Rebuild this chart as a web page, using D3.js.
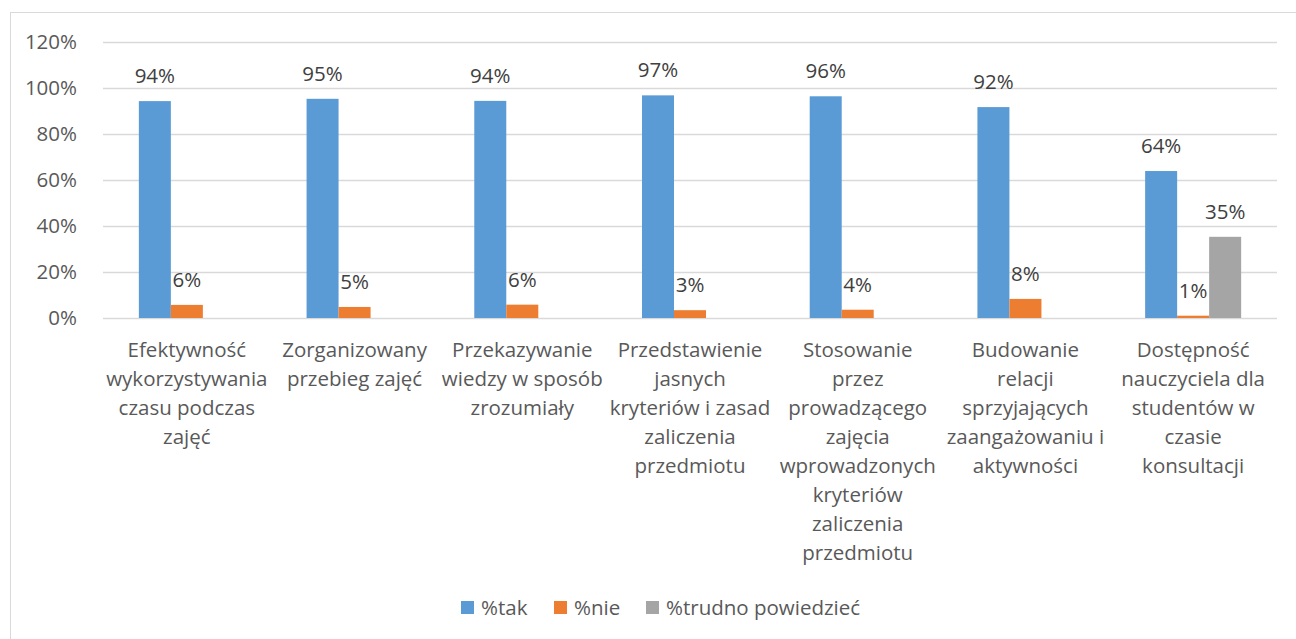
<!DOCTYPE html>
<html>
<head>
<meta charset="utf-8">
<script src="https://cdn.jsdelivr.net/npm/d3@7"></script>
<style>
  body { margin: 0; background: #fff; }
  text { font-family: "Open Sans", Lato, sans-serif; }
</style>
</head>
<body>
<svg width="1296" height="639"></svg>
<script>
// categories (line breaks as in the original wrapped labels)
var categories = [
  "Efektywność\nwykorzystywania\nczasu podczas\nzajęć",
  "Zorganizowany\nprzebieg zajęć",
  "Przekazywanie\nwiedzy w sposób\nzrozumiały",
  "Przedstawienie\njasnych\nkryteriów i zasad\nzaliczenia\nprzedmiotu",
  "Stosowanie\nprzez\nprowadzącego\nzajęcia\nwprowadzonych\nkryteriów\nzaliczenia\nprzedmiotu",
  "Budowanie\nrelacji\nsprzyjających\nzaangażowaniu i\naktywności",
  "Dostępność\nnauczyciela dla\nstudentów w\nczasie\nkonsultacji"
];

var keys = ["%tak", "%nie", "%trudno powiedzieć"];

// values in percent
var tak = [94.3, 95.3, 94.4, 96.8, 96.4, 91.7, 63.9];
var nie = [5.7, 4.8, 5.8, 3.4, 3.6, 8.3, 1.0];
var trudno = [null, null, null, null, null, null, 35.3];

var yTicks = [0, 20, 40, 60, 80, 100, 120];

var fontSize = 20.5;

var svg = d3.select("svg"),
    margin = {top: 42, right: 19, bottom: 321, left: 103},
    width = +svg.attr("width") - margin.left - margin.right,
    height = +svg.attr("height") - margin.top - margin.bottom;

// chart frame
svg.append("rect")
    .attr("x", 10.5).attr("y", 12.5)
    .attr("width", 1300).attr("height", 700)
    .attr("fill", "none")
    .attr("stroke", "#d9d9d9");

var g = svg.append("g").attr("transform", "translate(" + margin.left + "," + margin.top + ")");

var x0 = d3.scaleBand()
    .domain(d3.range(categories.length))
    .range([0, width]);

var x1 = d3.scaleBand()
    .domain(keys)
    .range([0, x0.bandwidth()])
    .paddingOuter(1.12);

var y = d3.scaleLinear()
    .domain([0, 120])
    .range([height, 0]);

var z = d3.scaleOrdinal()
    .domain(keys)
    .range(["#5b9bd5", "#ed7d31", "#a5a5a5"]);

// gridlines
g.append("g")
  .selectAll("line")
  .data(yTicks)
  .enter().append("line")
    .attr("x1", 0)
    .attr("x2", width)
    .attr("y1", function(d) { return Math.round(y(d)) + 0.5; })
    .attr("y2", function(d) { return Math.round(y(d)) + 0.5; })
    .attr("stroke", "#d9d9d9")
    .attr("stroke-width", 1.3);

// y axis labels
var yAxis = g.append("g")
    .attr("transform", "translate(-23,0)")
    .call(d3.axisLeft(y).tickValues(yTicks).tickSize(0).tickFormat(function(d) { return d + "%"; }));
yAxis.select(".domain").remove();
yAxis.selectAll("text")
    .attr("fill", "#595959")
    .attr("font-size", fontSize)
    .attr("font-family", "'Open Sans', sans-serif");

var rows = categories.map(function(c, i) {
  return [
    {key: keys[0], value: tak[i]},
    {key: keys[1], value: nie[i]},
    {key: keys[2], value: trudno[i]}
  ].filter(function(d) { return d.value != null; });
});

var groups = g.append("g")
  .selectAll("g")
  .data(rows)
  .enter().append("g")
    .attr("transform", function(d, i) { return "translate(" + x0(i) + ",0)"; });

groups.selectAll("rect")
  .data(function(d) { return d; })
  .enter().append("rect")
    .attr("x", function(d) { return x1(d.key); })
    .attr("y", function(d) { return y(d.value); })
    .attr("width", x1.bandwidth())
    .attr("height", function(d) { return height - y(d.value); })
    .attr("fill", function(d) { return z(d.key); });

// data labels
groups.selectAll("text")
  .data(function(d) { return d; })
  .enter().append("text")
    .attr("x", function(d) { return x1(d.key) + x1.bandwidth() / 2; })
    .attr("y", function(d) { return y(d.value) - 18; })
    .attr("text-anchor", "middle")
    .attr("fill", "#404040")
    .attr("font-size", fontSize)
    .text(function(d) { return Math.round(d.value) + "%"; });

// x axis labels
var xl = g.append("g")
  .selectAll("text")
  .data(categories)
  .enter().append("text")
    .attr("x", function(d, i) { return x0(i) + x0.bandwidth() / 2; })
    .attr("y", height + 39)
    .attr("text-anchor", "middle")
    .attr("fill", "#595959")
    .attr("font-size", fontSize);

xl.selectAll("tspan")
  .data(function(d) { return d.split("\n"); })
  .enter().append("tspan")
    .attr("x", function() { return d3.select(this.parentNode).attr("x"); })
    .attr("dy", function(d, i) { return i === 0 ? 0 : 29; })
    .text(function(d) { return d; });

// legend
var legendX = [461, 554, 646];
var legend = svg.append("g")
  .selectAll("g")
  .data(keys)
  .enter().append("g")
    .attr("transform", function(d, i) { return "translate(" + legendX[i] + ",601)"; });

legend.append("rect")
    .attr("width", 13)
    .attr("height", 13)
    .attr("fill", z);

legend.append("text")
    .attr("x", 20)
    .attr("y", 6.5)
    .attr("dy", "0.35em")
    .attr("fill", "#595959")
    .attr("font-size", fontSize)
    .text(function(d) { return d; });
</script>
</body>
</html>
